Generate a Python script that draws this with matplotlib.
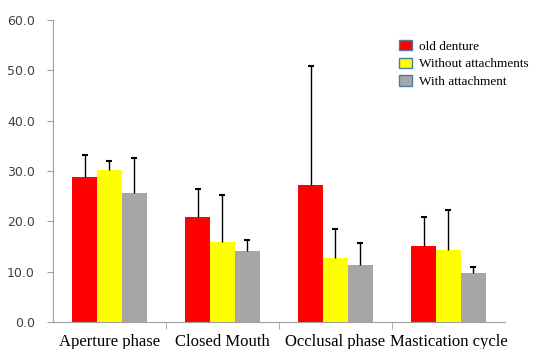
from matplotlib import pyplot as plt
from matplotlib.patches import Patch
import numpy as np

categories = ['Aperture phase', 'Closed Mouth', 'Occlusal phase', 'Mastication cycle']
series_names = ['old denture', 'Without attachments', 'With attachment']

old_denture = [28.8, 20.8, 27.2, 15.0]
without_att = [30.1, 15.8, 12.7, 14.3]
with_att = [25.7, 14.0, 11.3, 9.7]

old_denture_err = [4.3, 5.6, 23.6, 5.9]
without_att_err = [1.8, 9.4, 5.8, 8.0]
with_att_err = [6.8, 2.2, 4.3, 1.2]

y_ticks = [0, 10, 20, 30, 40, 50, 60]


def draw_plot():
    fig = plt.figure(figsize=(5.43, 3.49), dpi=100)
    ax = fig.add_axes([0.0976, 0.0774, 0.8324, 0.8656])

    x_pos = np.arange(len(categories))
    bar_width = 0.22
    colors = ['#ff0000', '#ffff00', '#a6a6a6']
    values = [old_denture, without_att, with_att]
    errors = [old_denture_err, without_att_err, with_att_err]

    for i in range(3):
        offs = (i - 1) * bar_width
        ax.bar(x_pos + offs, values[i], width=bar_width, color=colors[i],
               linewidth=0, zorder=2)
        # only the upper half of the error bar is drawn
        eb = ax.errorbar(x_pos + offs, values[i], yerr=[np.zeros(4), errors[i]],
                         fmt='none', ecolor='black', elinewidth=1, capsize=2,
                         capthick=1.5, zorder=3)
        eb[1][0].set_visible(False)

    ax.set_xlim(-0.5, len(categories) - 0.5)
    ax.set_ylim(0, 60)
    ax.set_yticks(y_ticks)
    ax.set_yticklabels(['%.1f' % v for v in y_ticks], color='#404040', fontsize=9)

    ax.set_xticks(x_pos)
    ax.set_xticklabels(categories, family='Liberation Serif', fontsize=12)
    ax.tick_params(axis='x', which='major', length=0, pad=9)
    ax.set_xticks(np.arange(0.5, len(categories) - 0.5, 1), minor=True)
    ax.tick_params(axis='x', which='minor', length=5, color='#a0a0a0')
    ax.tick_params(axis='y', length=4, color='#a0a0a0', pad=9)

    for s in ['top', 'right']:
        ax.spines[s].set_visible(False)
    for s in ['left', 'bottom']:
        ax.spines[s].set_color('#a0a0a0')

    handles = [Patch(facecolor=c, edgecolor='#4f7aa8', linewidth=1) for c in colors]
    fig.legend(handles, series_names, loc='upper left', bbox_to_anchor=(0.7255, 0.9),
               frameon=False, prop={'family': 'Liberation Serif', 'size': 9.5},
               handlelength=1.0, handleheight=0.8, handletextpad=0.5,
               labelspacing=0.38, borderaxespad=0)

    fig.savefig('out.png', dpi=100)


if __name__ == "__main__":
    draw_plot()
